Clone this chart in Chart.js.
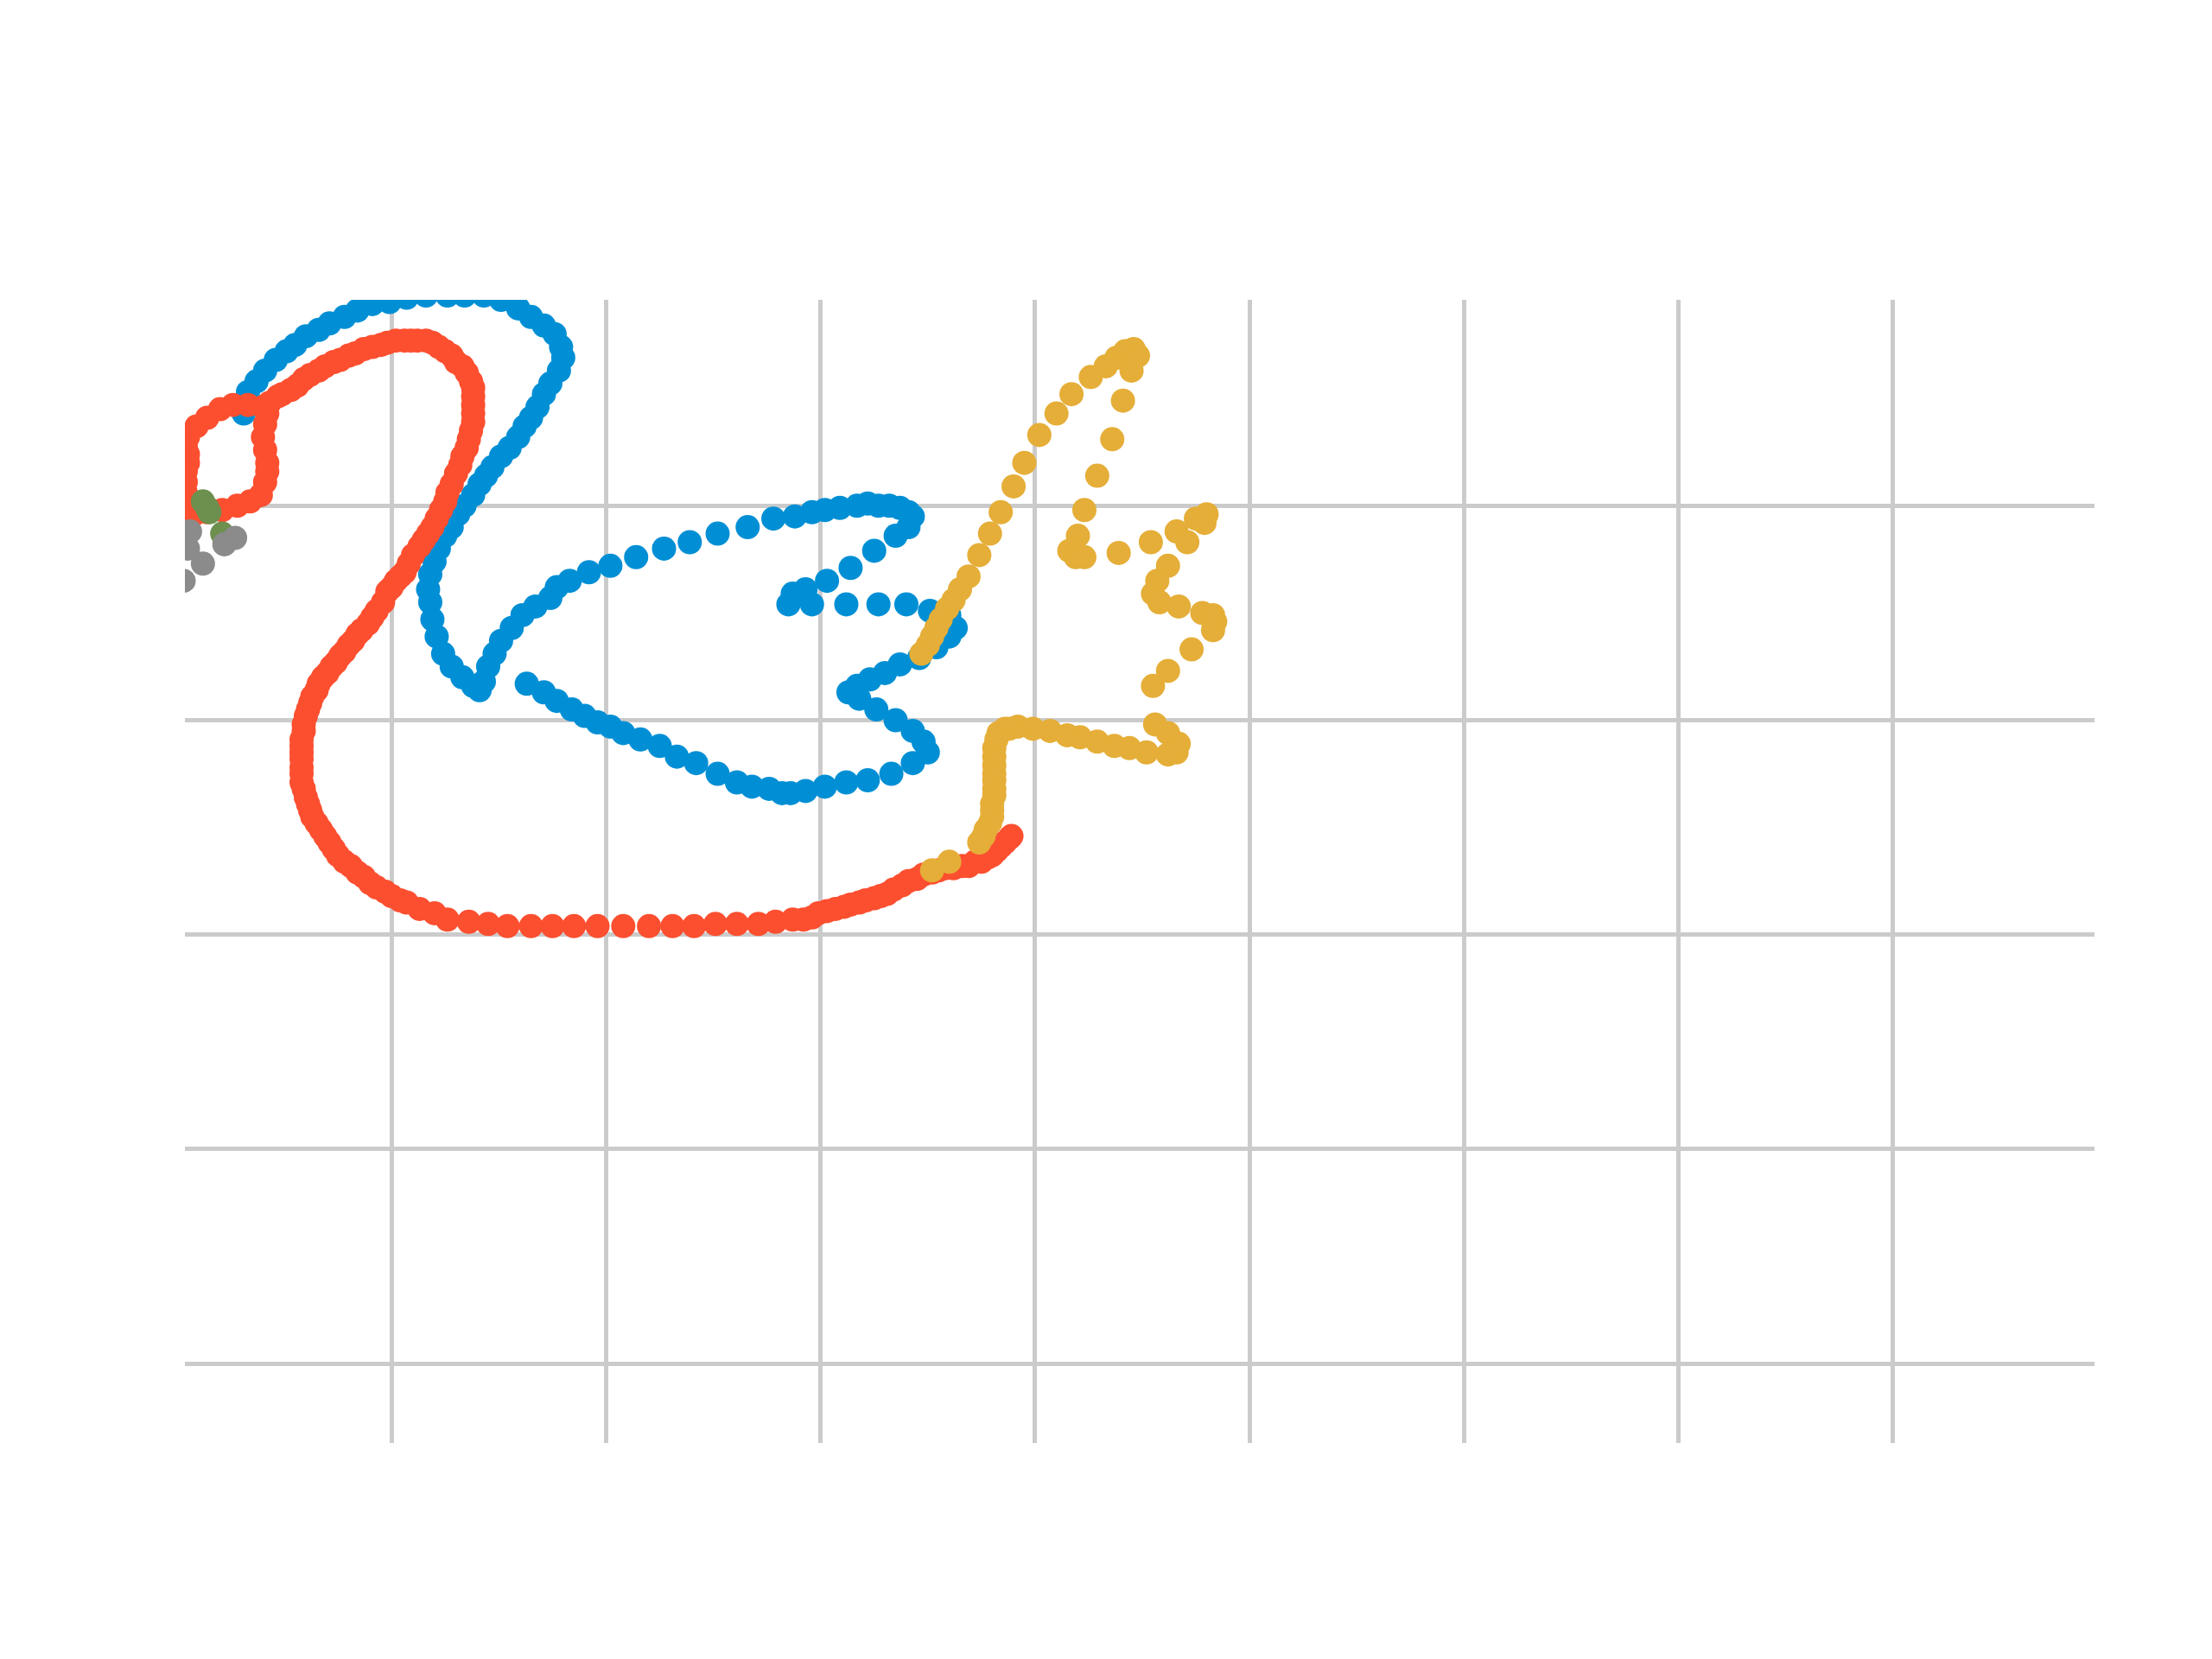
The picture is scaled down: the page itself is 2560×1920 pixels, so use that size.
<!DOCTYPE html>
<html>
<head>
<meta charset="utf-8">
<script src="https://cdn.jsdelivr.net/npm/chart.js@4.4.0/dist/chart.umd.min.js"></script>
<style>
  html, body { margin: 0; padding: 0; background: #ffffff; }
  #wrap { width: 2560px; height: 1920px; }
</style>
</head>
<body>
<div id="wrap"><canvas id="chart" width="2560" height="1920"></canvas></div>
<script>
// grid positions (no tick labels are shown)
const xTicks = [100, 200, 300, 400, 500, 600, 700, 800];
const yTicks = [0, 100, 200, 300, 400];

// points, one [x, y] pair per marker
const bluePoints = [
  [31,443],[33,453],[37,458],[41,463],[46,468],[51,472],[55,475],[60,479],[66,482],[71,485],
  [78,488],[84,491],[91,494],[99,495],[107,497],[116,498],[126,498],[134,498],[143,498],[151,496],
  [159,492],[165,488],[171,484],[176,480],[179,474],[180,469],[178,463],[174,457],[171,452],[168,446],
  [165,441],[162,437],[159,432],[155,427],[151,423],[147,418],[144,414],[141,410],[138,405],[134,400],
  [131,396],[128,390],[125,386],[122,380],[120,374],[118,368],[117,361],[118,355],[119,347],[121,339],
  [124,331],[128,325],[133,320],[138,316],[141,314],[143,318],[145,325],[148,331],[151,337],[156,343],
  [161,349],[167,353],[174,357],[177,362],[183,365],[192,369],[202,372],[214,376],[227,380],[239,383],
  [252,387],[266,390],[278,394],[288,395],[296,397],[302,398],[309,399],[317,400],[322,401],[327,400],
  [332,400],[337,399],[341,397],[343,395],[341,390],[335,386],[325,379],[314,371],[303,365],[293,361],
  [287,359],[285,354],[296,354],[312,354],[327,354],[340,354],[351,351],[360,349],[363,343],[360,339],
  [354,334],[346,329],[337,326],[330,322],[323,319],[317,316],[313,313],[318,310],[326,305],[335,300],
  [343,295],[348,290],[350,285],[343,280],[333,275],[322,272],[312,271],[302,269],[293,267],[286,266],
  [282,266],[276,268],[268,269],[261,271],[252,275],[242,280],[233,283],[225,288],[216,291],[208,294],
  [202,297],[196,299],[190,302],[184,305],[177,309],[171,313],[163,317]
];

const redPoints = [
  [4,397],[4,402],[4,406],[4,411],[4,416],[5,420],[5,424],[4,428],[5,432],[9,437],
  [14,441],[20,445],[26,447],[33,447],[40,446],[43,448],[42,443],[41,438],[40,432],[41,426],
  [42,420],[42,416],[41,411],[39,405],[34,402],[28,400],[21,398],[14,397],[8,396],
  [47,451],[49,452],[53,454],[56,456],[59,459],[62,461],[66,463],[69,465],[73,467],[76,468],
  [80,470],[83,471],[87,473],[91,474],[95,475],[98,476],[102,477],[106,477],[109,477],[112,477],
  [116,477],[119,476],[122,474],[125,472],[128,470],[130,467],[133,465],[135,462],[137,458],[138,455],
  [138,451],[138,447],[138,443],[138,439],[137,435],[136,431],[135,427],[133,423],[132,419],[130,415],
  [128,410],[126,406],[125,402],[123,398],[121,394],[119,390],[117,387],[115,384],[113,381],[110,377],
  [108,373],[106,369],[104,367],[102,365],[100,362],[98,360],[96,355],[93,351],[91,348],[89,345],
  [86,342],[84,340],[82,337],[80,335],[78,332],[76,330],[74,327],[72,325],[70,322],[68,320],
  [66,317],[65,314],[63,311],[62,308],[61,305],[60,302],[59,298],[59,295],[58,291],[58,288],
  [58,285],[58,282],[58,278],[58,275],[58,271],[59,268],[60,264],[61,261],[62,258],[63,255],
  [65,252],[67,249],[69,246],[71,243],[73,240],[75,237],[78,234],[81,232],[84,229],[87,227],
  [90,224],[93,222],[97,220],[100,218],[104,216],[107,215],[113,212],[120,210],[126,207],[136,206],
  [145,205],[154,204],[165,204],[175,204],[185,204],[196,204],[208,204],[220,204],[231,204],[241,204],
  [251,205],[261,205],[271,205],[279,206],[287,207],[292,207],[296,208],[299,210],[303,211],[307,212],
  [311,213],[314,214],[318,215],[321,216],[325,217],[328,218],[331,219],[334,221],[338,223],[341,225],
  [345,226],[348,228],[352,229],[355,230],[358,231],[362,231],[366,232],[369,232],[372,234],[375,234],
  [378,236],[380,237],[382,239],[384,241],[386,243],[388,245],[389,246]
];

const yellowPoints = [
  [347,331],[350,335],[352,339],[354,343],[356,347],[359,352],[362,356],[365,361],[369,367],[374,377],
  [379,387],[384,397],[390,409],[395,420],[402,433],[410,443],[417,452],[426,460],[433,465],[438,469],
  [442,472],[446,473],[448,470],[445,463],[441,449],[436,431],[429,414],[423,398],[420,386],[416,379],
  [419,376],[423,376],[439,378],[454,383],[466,388],[471,383],[475,394],[480,396],[479,392],[462,372],
  [457,365],[455,359],[458,355],[467,353],[478,350],[483,349],[484,346],[483,342],[473,333],[462,323],
  [455,316],[456,298],[462,294],[467,289],[466,285],[462,284],[452,285],[444,287],[437,288],[429,290],
  [421,292],[415,293],[407,295],[399,296],[392,297],[388,296],[386,296],[383,294],[382,291],[381,287],
  [381,283],[381,279],[381,275],[381,272],[381,268],[381,265],[380,261],[380,258],[380,255],[379,252],
  [377,249],[376,246],[374,243],[360,234],[352,230]
];

const greenPoints = [[12,402],[14,399],[15,397],[21,387]];

const grayPoints = [[3,365],[5,380],[6,388],[12,373],[22,382],[27,385]];

const toXY = pts => pts.map(p => ({ x: p[0], y: p[1] }));

function series(points, color, order) {
  return {
    data: toXY(points),
    backgroundColor: color,
    pointBackgroundColor: color,
    pointBorderWidth: 0,
    pointRadius: 14,
    pointHoverRadius: 14,
    clip: 0,
    order: order
  };
}

function gridAxis(min, max, ticks) {
  return {
    type: 'linear',
    min: min,
    max: max,
    afterBuildTicks: axis => { axis.ticks = ticks.map(v => ({ value: v })); },
    ticks: { display: false },
    grid: { color: '#cbcbcb', lineWidth: 5, drawTicks: false },
    border: { display: false }
  };
}

new Chart(document.getElementById('chart'), {
  type: 'scatter',
  data: {
    datasets: [
      series(bluePoints, '#008fd5', 5),
      series(redPoints, '#fc4f30', 4),
      series(yellowPoints, '#e5ae38', 3),
      series(greenPoints, '#6d904f', 2),
      series(grayPoints, '#8b8b8b', 1)
    ]
  },
  options: {
    responsive: false,
    animation: false,
    devicePixelRatio: 1,
    layout: { padding: { left: 214, right: 136, top: 347, bottom: 250 } },
    plugins: { legend: { display: false }, tooltip: { enabled: false } },
    scales: {
      x: gridAxis(3.6, 894, xTicks),
      y: gridAxis(-37, 496, yTicks)
    }
  }
});
</script>
</body>
</html>
